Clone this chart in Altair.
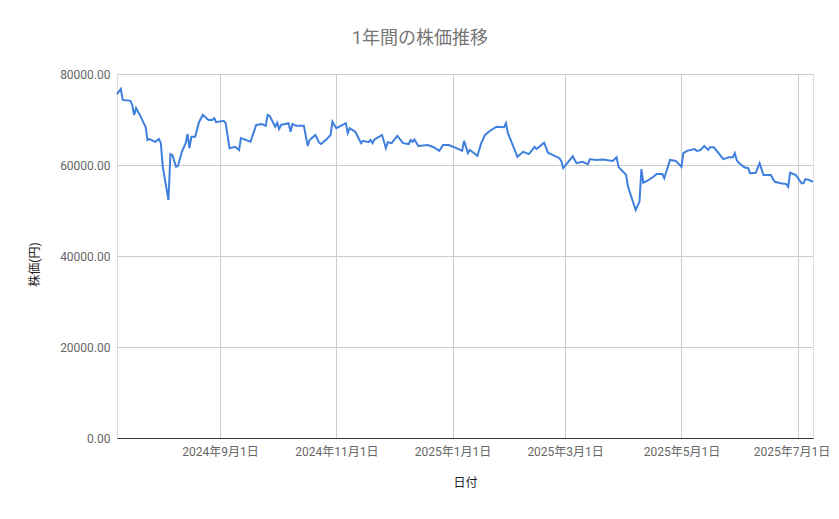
import altair as alt
import pandas as pd

dates = [
    "2024-07-09", "2024-07-11", "2024-07-12", "2024-07-16", "2024-07-17", "2024-07-18",
    "2024-07-19", "2024-07-21", "2024-07-23", "2024-07-24", "2024-07-25", "2024-07-26",
    "2024-07-29", "2024-07-31", "2024-08-01", "2024-08-02", "2024-08-05", "2024-08-06",
    "2024-08-07", "2024-08-09", "2024-08-10", "2024-08-12", "2024-08-14", "2024-08-15",
    "2024-08-16", "2024-08-17", "2024-08-19", "2024-08-21", "2024-08-23", "2024-08-26",
    "2024-08-28", "2024-08-29", "2024-08-30", "2024-09-03", "2024-09-04", "2024-09-06",
    "2024-09-09", "2024-09-11", "2024-09-12", "2024-09-17", "2024-09-20", "2024-09-23",
    "2024-09-25", "2024-09-26", "2024-09-27", "2024-09-30", "2024-10-01", "2024-10-02",
    "2024-10-03", "2024-10-07", "2024-10-08", "2024-10-09", "2024-10-11", "2024-10-15",
    "2024-10-17", "2024-10-18", "2024-10-21", "2024-10-23", "2024-10-24", "2024-10-27",
    "2024-10-29", "2024-10-30", "2024-11-01", "2024-11-06", "2024-11-07", "2024-11-08",
    "2024-11-11", "2024-11-14", "2024-11-15", "2024-11-18", "2024-11-19", "2024-11-20",
    "2024-11-21", "2024-11-25", "2024-11-27", "2024-11-28", "2024-11-30", "2024-12-03",
    "2024-12-06", "2024-12-09", "2024-12-10", "2024-12-11", "2024-12-12", "2024-12-14",
    "2024-12-19", "2024-12-22", "2024-12-25", "2024-12-27", "2024-12-30", "2025-01-03",
    "2025-01-06", "2025-01-07", "2025-01-09", "2025-01-10", "2025-01-14", "2025-01-16",
    "2025-01-18", "2025-01-20", "2025-01-24", "2025-01-28", "2025-01-29", "2025-01-30",
    "2025-02-04", "2025-02-07", "2025-02-10", "2025-02-13", "2025-02-14", "2025-02-18",
    "2025-02-20", "2025-02-26", "2025-02-27", "2025-02-28", "2025-03-05", "2025-03-07",
    "2025-03-10", "2025-03-13", "2025-03-14", "2025-03-17", "2025-03-21", "2025-03-26",
    "2025-03-28", "2025-03-29", "2025-04-02", "2025-04-03", "2025-04-07", "2025-04-09",
    "2025-04-10", "2025-04-11", "2025-04-13", "2025-04-16", "2025-04-18", "2025-04-21",
    "2025-04-22", "2025-04-25", "2025-04-28", "2025-05-01", "2025-05-02", "2025-05-04",
    "2025-05-08", "2025-05-09", "2025-05-11", "2025-05-13", "2025-05-15", "2025-05-16",
    "2025-05-18", "2025-05-23", "2025-05-26", "2025-05-28", "2025-05-29", "2025-05-30",
    "2025-05-31", "2025-06-03", "2025-06-05", "2025-06-06", "2025-06-09", "2025-06-11",
    "2025-06-13", "2025-06-17", "2025-06-18", "2025-06-19", "2025-06-22", "2025-06-25",
    "2025-06-26", "2025-06-27", "2025-06-30", "2025-07-03", "2025-07-04", "2025-07-05",
    "2025-07-07", "2025-07-09",
]

prices = [
    75600, 76700, 74300, 74100, 73200, 71000,
    72500, 71000, 69200, 68400, 65500, 65700,
    65100, 65700, 64800, 59600, 52300, 62400,
    62200, 59600, 59800, 62900, 64800, 66800,
    63700, 66200, 66200, 69400, 71000, 69900,
    69900, 70300, 69400, 69700, 69200, 63700,
    64000, 63300, 65900, 65100, 68800, 69000,
    68600, 71000, 70800, 68400, 69300, 67900,
    68800, 69200, 67300, 69000, 68600, 68600,
    64200, 65500, 66600, 64900, 64600, 65700,
    66600, 69500, 68100, 69200, 67000, 68100,
    67300, 64800, 65300, 65000, 65500, 64800,
    65600, 66600, 63700, 65000, 64800, 66400,
    64800, 64600, 65500, 65100, 65600, 64200,
    64400, 63900, 63100, 64400, 64400, 63700,
    63100, 65300, 62600, 63300, 62000, 64800,
    66600, 67300, 68400, 68300, 69200, 67000,
    61800, 62900, 62400, 64000, 63500, 64900,
    62700, 61500, 60900, 59300, 61900, 60400,
    60700, 60200, 61300, 61100, 61200, 60900,
    61700, 59600, 57800, 55200, 50100, 51900,
    59100, 56100, 56500, 57300, 58000, 58000,
    57100, 61100, 60900, 59600, 62600, 63100,
    63500, 63100, 63300, 64200, 63300, 63900,
    63900, 61300, 61700, 61700, 62600, 61100,
    60500, 59500, 59300, 58200, 58300, 60400,
    57800, 57800, 56900, 56300, 56000, 55800,
    55200, 58300, 57800, 56000, 56000, 56900,
    56700, 56300,
]

y_ticks = [0, 20000, 40000, 60000, 80000]
x_tick_dates = [(2024, 9), (2024, 11), (2025, 1), (2025, 3), (2025, 5), (2025, 7)]

df = pd.DataFrame({"日付": dates, "株価": prices})

FONT = "Roboto, 'Noto Sans CJK JP', sans-serif"

x_values = [alt.DateTime(year=y, month=m, date=1, utc=True) for y, m in x_tick_dates]

chart = (
    alt.Chart(df)
    .mark_line(color="#3f7fde", strokeWidth=2, interpolate="linear")
    .encode(
        x=alt.X(
            "日付:T",
            scale=alt.Scale(
                type="utc",
                domain=[alt.DateTime(year=2024, month=7, date=9, utc=True),
                        alt.DateTime(year=2025, month=7, date=9, utc=True)],
                nice=False,
            ),
            axis=alt.Axis(
                title="日付",
                values=x_values,
                labelExpr="utcFormat(datum.value, '%Y年%-m月%-d日')",
                labelFont=FONT,
                labelFontSize=12,
                labelColor="#666666",
                labelPadding=8,
                ticks=False,
                domain=True,
                domainColor="#333333",
                domainWidth=1,
                grid=True,
                gridColor="#cccccc",
                titleFont=FONT,
                titleFontSize=12,
                titleFontWeight="normal",
                titleColor="#222222",
                titlePadding=20,
                labelOverlap=False,
                labelFlush=20,
                labelFlushOffset=32,
            ),
        ),
        y=alt.Y(
            "株価:Q",
            scale=alt.Scale(domain=[0, 80000], nice=False),
            axis=alt.Axis(
                title="株価(円)",
                values=y_ticks,
                format=".2f",
                labelFont=FONT,
                labelFontSize=12,
                labelColor="#666666",
                labelPadding=7,
                ticks=False,
                domain=False,
                grid=True,
                gridColor="#cccccc",
                titleFont=FONT,
                titleFontSize=12,
                titleFontWeight="normal",
                titleColor="#222222",
                titlePadding=18,
                titleY=190,
            ),
        ),
    )
    .properties(
        width=696,
        height=364,
        title=alt.TitleParams(
            "1年間の株価推移",
            font=FONT,
            fontSize=18,
            fontWeight="normal",
            color="#757575",
            anchor="middle",
            dx=-45,
            offset=20,
        ),
        autosize=alt.AutoSizeParams(type="none"),
        padding={"left": 109, "top": 66, "right": 18, "bottom": 60},
    )
    .configure_view(stroke=None)
    .configure(background="white")
)

chart.save("out.html", embed_options={"renderer": "svg", "actions": False})
